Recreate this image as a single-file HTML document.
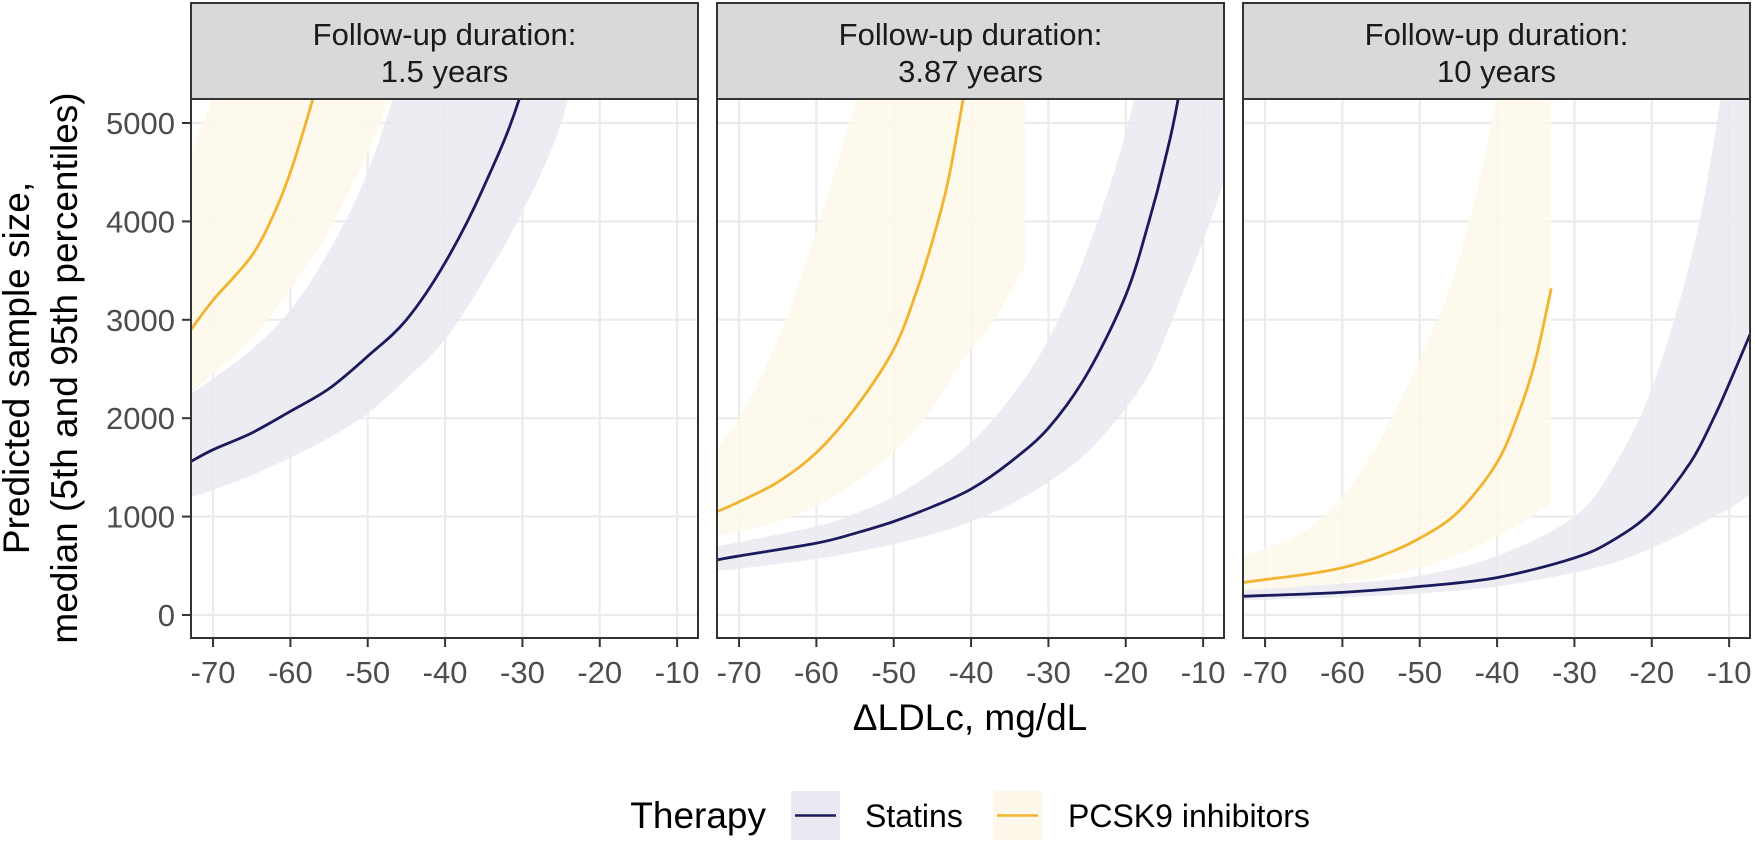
<!DOCTYPE html>
<html><head><meta charset="utf-8"><style>
body{margin:0;background:#fff}
svg{display:block;font-family:"Liberation Sans",Arial,sans-serif}
</style></head><body>
<svg id="c" width="1755" height="844" viewBox="0 0 1755 844"></svg>
<script>
const panelTitles=["1.5 years","3.87 years","10 years"];
const xTicks=[-70,-60,-50,-40,-30,-20,-10];
const yTicks=[0,1000,2000,3000,4000,5000];
// Panel 1
const p1StatX=[-72.85,-70,-65,-60,-55,-50,-45,-40,-35,-30,-25,-20];
const p1StatMed=[1560,1680,1850,2070,2300,2630,3000,3580,4350,5350,7000,9000];
const p1StatLo=[1200,1270,1420,1600,1800,2050,2400,2800,3400,4100,5000,6500];
const p1StatHi=[2250,2400,2700,3100,3700,4500,5700,7000,9000,12000,15000,18000];
const p1PcsX=[-72.85,-70,-65,-62,-60,-58,-55,-50,-47,-40];
const p1PcsMed=[2900,3200,3650,4100,4500,5000,5800,7000,8000,10000];
const p1PcsLo=[2250,2450,2800,3100,3300,3550,3900,4700,5300,7000];
const p1PcsHi=[4700,5300,6500,7500,8000,9000,10000,12000,14000,18000];
// Panel 2
const p2StatX=[-72.85,-70,-60,-55,-50,-45,-40,-35,-30,-25,-20,-17,-15,-13,-10,-7.3];
const p2StatMed=[560,600,730,830,950,1100,1280,1550,1900,2450,3250,4000,4600,5350,7000,9000];
const p2StatLo=[450,470,570,640,720,820,950,1120,1350,1650,2100,2450,2800,3200,3800,4400];
const p2StatHi=[700,740,900,1030,1200,1450,1750,2200,2800,3700,4900,6000,7000,8000,10000,12000];
const p2PcsX=[-72.85,-70,-65,-60,-55,-50,-47,-45,-43,-41,-37,-33];
const p2PcsMed=[1050,1150,1350,1650,2100,2700,3300,3800,4400,5250,7000,9000];
const p2PcsLo=[800,850,950,1100,1350,1650,1900,2100,2350,2600,3000,3550];
const p2PcsHi=[1700,2000,2800,3900,5200,6500,7200,7800,8500,9000,10000,12000];
// Panel 3
const p3StatX=[-72.85,-60,-50,-40,-30,-25,-20,-15,-12,-10,-7.3];
const p3StatMed=[190,230,290,380,580,760,1050,1550,2000,2350,2850];
const p3StatLo=[150,180,220,290,430,530,680,870,1000,1080,1220];
const p3StatHi=[260,320,400,600,1000,1500,2300,3600,4800,6000,8000];
const p3PcsX=[-72.85,-70,-65,-60,-55,-50,-45,-40,-37,-35,-33];
const p3PcsMed=[330,360,410,480,600,780,1050,1550,2100,2600,3320];
const p3PcsLo=[250,265,290,330,390,480,610,800,930,1030,1150];
const p3PcsHi=[600,680,850,1200,1800,2600,3600,5300,7000,8000,9000];

const panels=[
 {stat:[p1StatX,p1StatMed,p1StatLo,p1StatHi],pcs:[p1PcsX,p1PcsMed,p1PcsLo,p1PcsHi]},
 {stat:[p2StatX,p2StatMed,p2StatLo,p2StatHi],pcs:[p2PcsX,p2PcsMed,p2PcsLo,p2PcsHi]},
 {stat:[p3StatX,p3StatMed,p3StatLo,p3StatHi],pcs:[p3PcsX,p3PcsMed,p3PcsLo,p3PcsHi]}];

const NS="http://www.w3.org/2000/svg";
const svgC=document.getElementById('c');
function el(t,a,p){const e=document.createElementNS(NS,t);for(const k in a)e.setAttribute(k,a[k]);(p||svgC).appendChild(e);return e;}
const lefts=[191,717,1243],PW=507,PTOP=99,PBOT=638,XMIN=-72.85,XMAX=-7.3,YMIN=-234,YMAX=5244;
const STATC="#1B1A5C",STATF="#EAE9F1",PCSC="#F2B42E",PCSF="#FEF8EA";
function smooth(P){
 let s='';
 for(let i=0;i<P.length-1;i++){
  const p0=P[i-1]||P[i],p1=P[i],p2=P[i+1],p3=P[i+2]||p2;
  const c1=[p1[0]+(p2[0]-p0[0])/6,p1[1]+(p2[1]-p0[1])/6];
  const c2=[p2[0]-(p3[0]-p1[0])/6,p2[1]-(p3[1]-p1[1])/6];
  s+=' C'+c1[0]+','+c1[1]+' '+c2[0]+','+c2[1]+' '+p2[0]+','+p2[1];
 }
 return s;
}
const defs=el('defs',{});
panels.forEach((p,i)=>{
 const L=lefts[i];
 const xs=v=>L+(v-XMIN)/(XMAX-XMIN)*PW;
 const ys=v=>PBOT-(v-YMIN)/(YMAX-YMIN)*(PBOT-PTOP);
 const cp=el('clipPath',{id:'cp'+i},defs);
 el('rect',{x:L,y:PTOP,width:PW,height:PBOT-PTOP},cp);
 const g=el('g',{});
 
 
 el('rect',{x:L,y:PTOP,width:PW,height:PBOT-PTOP,fill:'#fff'},g);
 xTicks.forEach(t=>{const l=el('line',{x1:xs(t),x2:xs(t),y1:PTOP,y2:PBOT,stroke:'#EBEBEB','stroke-width':2.2},g);
  });
 yTicks.forEach(t=>{const l=el('line',{x1:L,x2:L+PW,y1:ys(t),y2:ys(t),stroke:'#EBEBEB','stroke-width':2.2},g);
  });
 const cg=el('g',{'clip-path':'url(#cp'+i+')'},g);
 [['stat',STATF,'statins'],['pcs',PCSF,'pcsk9']].forEach(([k,f,n])=>{
  const [X,M,Lo,Hi]=p[k];
  const hp=X.map((x,j)=>[xs(x),ys(Hi[j])]);
  const lp=X.map((x,j)=>[xs(x),ys(Lo[j])]).reverse();
  const d='M'+hp[0][0]+','+hp[0][1]+smooth(hp)+' L'+lp[0][0]+','+lp[0][1]+smooth(lp)+' Z';
  const r=el('path',{d:d,fill:f,'fill-opacity':0.85},cg);
  
 });
 [['stat',STATC,'statins'],['pcs',PCSC,'pcsk9']].forEach(([k,c,n])=>{
  const [X,M]=p[k];
  const mp=X.map((x,j)=>[xs(x),ys(M[j])]);
  const ln=el('path',{d:'M'+mp[0][0]+','+mp[0][1]+smooth(mp),fill:'none',stroke:c,'stroke-width':2.8},cg);
  
 });
 el('rect',{x:L,y:PTOP,width:PW,height:PBOT-PTOP,fill:'none',stroke:'#333','stroke-width':2},g);
 const st=el('rect',{x:L,y:3,width:PW,height:96,fill:'#D9D9D9',stroke:'#333','stroke-width':2},g);
 
 const t1=el('text',{x:L+PW/2,y:45,'font-size':31,'text-anchor':'middle',fill:'#1a1a1a'},g);t1.textContent='Follow-up duration:';
 
 const t2=el('text',{x:L+PW/2,y:82,'font-size':31,'text-anchor':'middle',fill:'#1a1a1a'},g);t2.textContent=panelTitles[i];
 
 xTicks.forEach(t=>{el('line',{x1:xs(t),x2:xs(t),y1:PBOT,y2:PBOT+9,stroke:'#333','stroke-width':2},g);
  const tx=el('text',{x:xs(t),y:683,'font-size':31,'text-anchor':'middle',fill:'#4D4D4D'},g);tx.textContent=t;
  });
 if(i===0)yTicks.forEach(t=>{el('line',{x1:L-9,x2:L,y1:ys(t),y2:ys(t),stroke:'#333','stroke-width':2},g);
  const ty=el('text',{x:L-16,y:ys(t)+11,'font-size':31,'text-anchor':'end',fill:'#4D4D4D'},g);ty.textContent=t;
  });
});
</script>
<script>
(function(){
const svg=document.getElementById('c');const NS="http://www.w3.org/2000/svg";
function mk(t,a){const e=document.createElementNS(NS,t);for(const k in a)e.setAttribute(k,a[k]);svg.appendChild(e);return e;}
let t=mk('text',{x:970,y:730,'font-size':37,'text-anchor':'middle',fill:'#000'});t.textContent='ΔLDLc, mg/dL';

t=mk('text',{x:0,y:0,'font-size':37,'text-anchor':'middle',fill:'#000',transform:'translate(29,368) rotate(-90)'});t.textContent='Predicted sample size,';

t=mk('text',{x:0,y:0,'font-size':37,'text-anchor':'middle',fill:'#000',transform:'translate(77,368) rotate(-90)'});t.textContent='median (5th and 95th percentiles)';

t=mk('text',{x:766,y:828,'font-size':37,'text-anchor':'end',fill:'#000'});t.textContent='Therapy';

let r=mk('rect',{x:791,y:791,width:49,height:49,fill:'#EAE9F1'});
mk('line',{x1:795,x2:836,y1:815.5,y2:815.5,stroke:'#1B1A5C','stroke-width':2.6});
t=mk('text',{x:865,y:827,'font-size':32,fill:'#000'});t.textContent='Statins';

r=mk('rect',{x:993,y:791,width:49,height:49,fill:'#FEF8EA'});
mk('line',{x1:997,x2:1038,y1:815.5,y2:815.5,stroke:'#F2B42E','stroke-width':2.6});
t=mk('text',{x:1068,y:827,'font-size':32,fill:'#000'});t.textContent='PCSK9 inhibitors';

})();
</script>
</body></html>
